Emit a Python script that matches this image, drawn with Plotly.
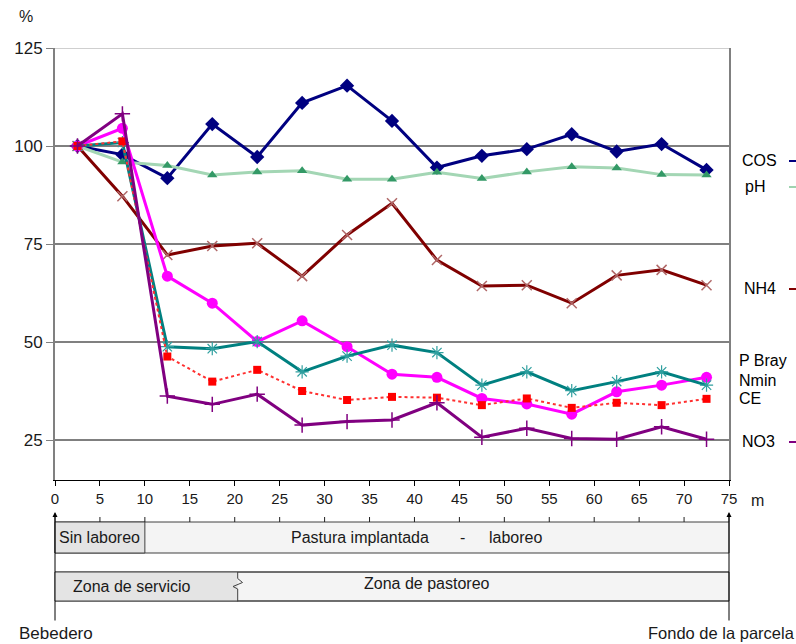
################################
# plot.py
# Soil properties along the paddock, % of value at the water trough
################################

import plotly.graph_objects as go

################################
# Data
################################

# distance from the water trough (m), one sample every 5 m
distancia = [2.5, 7.5, 12.5, 17.5, 22.5, 27.5, 32.5, 37.5,
             42.5, 47.5, 52.5, 57.5, 62.5, 67.5, 72.5]

# values as % of the first sample
cos = [100, 97.8, 91.8, 105.6, 97.2, 111.0, 115.4, 106.4,
       94.5, 97.5, 99.2, 103.0, 98.6, 100.5, 93.9]
ph = [100, 95.9, 95.0, 92.6, 93.4, 93.7, 91.5, 91.5,
      93.3, 91.7, 93.4, 94.7, 94.4, 92.7, 92.6]
nh4 = [100, 87.2, 72.2, 74.5, 75.2, 66.8, 77.3, 85.4,
       70.9, 64.3, 64.5, 59.9, 67.0, 68.4, 64.5]
p_bray = [100, 104.5, 66.8, 59.9, 50.1, 55.4, 48.8, 41.8,
          41.0, 35.6, 34.2, 31.6, 37.3, 39.0, 41.0]
nmin = [100, 100.9, 48.8, 48.3, 50.1, 42.4, 46.4, 49.2,
        47.3, 39.0, 42.4, 37.6, 39.9, 42.4, 39.0]
ce = [100, 101.2, 46.3, 39.9, 42.9, 37.5, 35.2, 36.0,
      35.8, 33.9, 35.6, 33.2, 34.5, 33.9, 35.5]
no3 = [100, 108.2, 36.2, 34.1, 36.7, 28.8, 29.7, 30.1,
       34.5, 25.7, 28.0, 25.4, 25.2, 28.4, 25.2]

x_ticks = list(range(0, 80, 5))
y_ticks = [25, 50, 75, 100, 125]

FONT = "Liberation Sans, Arial, sans-serif"

################################
# Helpers: pixel position -> paper coordinates
# plot area runs from x=55..729 px and y=48..480 px
################################

def px(x):
    return (x - 55) / 674

def py(y):
    return (480 - y) / 432

def mx(m):
    return m / 75

################################
# Series
################################

series = [
    ("COS", cos, dict(color="#000080", width=3), dict(symbol="diamond", size=11, color="#000080")),
    ("pH", ph, dict(color="#a3d6b4", width=3), dict(symbol="triangle-up", size=9, color="#339966")),
    ("NH4", nh4, dict(color="#800000", width=3), dict(symbol="x-thin", size=10, line=dict(width=1.5, color="#b06868"))),
    ("P Bray", p_bray, dict(color="#ff00ff", width=3), dict(symbol="circle", size=11, color="#ff00ff")),
    ("Nmin", nmin, dict(color="#008080", width=3), dict(symbol="asterisk", size=11, line=dict(width=1.2, color="#2f9f9f"))),
    ("CE", ce, dict(color="#ff3030", width=2, dash="dot"), dict(symbol="square", size=8, color="#ff0000")),
    ("NO3", no3, dict(color="#800080", width=3), dict(symbol="cross-thin", size=11, line=dict(width=1.5, color="#800080"))),
]

fig = go.Figure()
for name, vals, line, marker in series:
    fig.add_trace(go.Scatter(x=distancia, y=vals, name=name, mode="lines+markers",
                             line=line, marker=marker, showlegend=False, cliponaxis=False))

################################
# Gridlines (100 and 25 black, 75 and 50 grey)
################################

grid_style = {125: ("#a0a0a0", 1), 100: ("#000000", 1), 75: ("#808080", 2),
              50: ("#808080", 2), 25: ("#000000", 1)}
shapes = []
for v, (c, w) in grid_style.items():
    shapes.append(dict(type="line", xref="paper", yref="y", x0=0, x1=1, y0=v, y1=v,
                       line=dict(color=c, width=w), layer="below"))

################################
# Legend labels on the right (text + short line sample, cut by the edge)
################################

legend_pos = [("COS", 740, 160, "#000080"), ("pH", 743, 186, "#9fd3b0"),
              ("NH4", 742, 288, "#800000"), ("P Bray", 737, 360, None),
              ("Nmin", 737, 380, None), ("CE", 737, 398, None), ("NO3", 740, 441, "#800080")]
annotations = []
for txt, x, y, c in legend_pos:
    annotations.append(dict(text=txt, xref="paper", yref="paper", x=px(x), y=py(y),
                            xanchor="left", yanchor="middle", showarrow=False,
                            font=dict(size=16, color="#000000", family=FONT)))
    if c:
        shapes.append(dict(type="line", xref="paper", yref="paper", x0=px(789), x1=px(797),
                           y0=py(y + 1), y1=py(y + 1), line=dict(color=c, width=2)))

################################
# Lower diagram: land use and zones
################################

box_line = dict(color="#404040", width=1)
# Sin laboreo / Pastura implantada - laboreo
shapes.append(dict(type="rect", xref="paper", yref="paper", x0=0, x1=1, y0=py(553), y1=py(522),
                   fillcolor="#f4f4f4", line=box_line))
shapes.append(dict(type="rect", xref="paper", yref="paper", x0=0, x1=mx(10), y0=py(553), y1=py(522),
                   fillcolor="#e4e4e4", line=box_line))
for t in x_ticks:
    shapes.append(dict(type="line", xref="paper", yref="paper", x0=mx(t), x1=mx(t),
                       y0=py(522), y1=py(517), line=dict(color="#202020", width=1)))
# Zona de servicio / Zona de pastoreo
shapes.append(dict(type="rect", xref="paper", yref="paper", x0=0, x1=1, y0=py(601), y1=py(572),
                   fillcolor="#f4f4f4", line=box_line))
shapes.append(dict(type="rect", xref="paper", yref="paper", x0=0, x1=px(237.7), y0=py(601), y1=py(572),
                   fillcolor="#e4e4e4", line=dict(width=0)))
shapes.append(dict(type="line", xref="paper", yref="paper", x0=0, x1=1, y0=py(601), y1=py(601), line=box_line))
shapes.append(dict(type="line", xref="paper", yref="paper", x0=0, x1=1, y0=py(572), y1=py(572), line=box_line))
zig = [(237.7, 601.5), (237.7, 589), (233, 586.5), (242.5, 582.5), (237.7, 578.5), (237.7, 572)]
path = "M " + " L ".join(f"{px(a):.5f},{py(b):.5f}" for a, b in zig)
shapes.append(dict(type="path", xref="paper", yref="paper", path=path, line=box_line))

# arrows at both ends
for x in (0, 1):
    annotations.append(dict(text="", xref="paper", yref="paper", x=x, y=py(512),
                            ax=0, ay=110, showarrow=True, arrowhead=2, arrowsize=1,
                            arrowwidth=1, arrowcolor="#000000"))

texts = [
    ("Sin laboreo", 57, 537, "left", 16),
    ("Pastura implantada", 360, 537, "center", 16),
    ("-", 462, 537, "center", 16),
    ("laboreo", 515, 537, "center", 16),
    ("Zona de servicio", 131, 586, "center", 16),
    ("Zona de pastoreo", 427, 583, "center", 16),
    ("Bebedero", 56, 633, "center", 17),
    ("Fondo de la parcela", 721, 633, "center", 16.5),
    ("m", 757, 500, "center", 16),
    ("%", 26, 17, "center", 16),
]
for txt, x, y, anchor, size in texts:
    annotations.append(dict(text=txt, xref="paper", yref="paper", x=px(x), y=py(y),
                            xanchor=anchor, yanchor="middle", showarrow=False,
                            font=dict(size=size, color="#1a1a1a", family=FONT)))

################################
# Layout
################################

fig.update_layout(
    width=796, height=644,
    margin=dict(l=55, r=67, t=48, b=164),
    paper_bgcolor="white", plot_bgcolor="white",
    font=dict(family=FONT, size=16, color="#1a1a1a"),
    shapes=shapes, annotations=annotations,
    xaxis=dict(range=[0, 75], tickvals=x_ticks, ticks="outside", ticklen=5,
               tickcolor="#000000", showline=True, linecolor="#000000", linewidth=1,
               showgrid=False, zeroline=False, tickfont=dict(size=15)),
    yaxis=dict(range=[14.8, 125], tickvals=y_ticks, ticks="outside", ticklen=7,
               tickcolor="#808080", showline=True, linecolor="#808080", linewidth=2,
               mirror=True, showgrid=False, zeroline=False, tickfont=dict(size=17)),
)

# drop the default page margin so the figure sits at the window's top-left corner
fig.write_html("out.html", config={"displayModeBar": False},
               post_script="document.body.style.margin='0';")
